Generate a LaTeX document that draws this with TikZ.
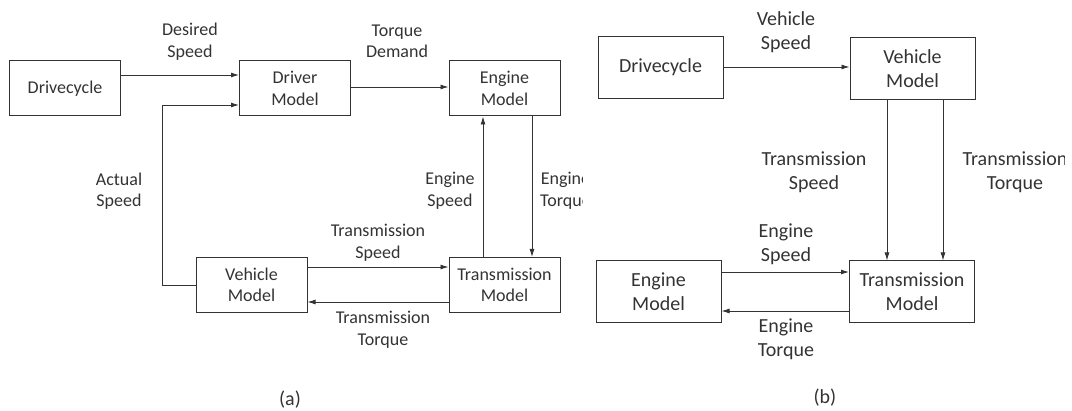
\documentclass[tikz,border=0pt]{standalone}
\usepackage{fontspec}
\setmainfont{Carlito}
\usetikzlibrary{arrows.meta}

\definecolor{ink}{HTML}{333333}

\tikzset{
  >={Latex[length=8pt,width=5pt]},
  boxA/.style={draw=ink, line width=1pt, minimum width=111pt, minimum height=55pt,
    inner sep=0pt, align=center, text=ink, font=\fontsize{18}{21.5}\selectfont},
  boxB/.style={draw=ink, line width=1pt, minimum width=125pt, minimum height=62pt,
    inner sep=0pt, align=center, text=ink, font=\fontsize{20}{24}\selectfont},
  lblA/.style={align=center, inner sep=0pt, text=ink, font=\fontsize{18}{21.5}\selectfont},
  lblB/.style={align=center, inner sep=0pt, text=ink, font=\fontsize{20}{24}\selectfont},
  wire/.style={draw=ink, line width=0.9pt, ->}
}

\begin{document}
\begin{tikzpicture}[x=1pt, y=-1pt]

\useasboundingbox (0,0) rectangle (1072,411);

% (a)
\begin{scope}
\clip (0,0) rectangle (582,411);

\node[boxA] (drvA)    at (65,88.5)    {Drivecycle};
\node[boxA] (driverA) at (295,88.5)   {Driver\\Model};
\node[boxA] (engA)    at (504.5,88.5) {Engine\\Model};
\node[boxA] (vehA)    at (251.5,285)  {Vehicle\\Model};
\node[boxA] (trnA)    at (504.5,285)  {Transmission\\Model};

\draw[wire] (drvA.east |- 0,75) -- (driverA.west |- 0,75);
\draw[wire] (vehA.west) -| (162,105) -- (driverA.west |- 0,105);
\draw[wire] (driverA.east |- 0,87) -- (engA.west |- 0,87);
\draw[wire] (trnA.north -| 483,0) -- (engA.south -| 483,0);
\draw[wire] (engA.south -| 532,0) -- (trnA.north -| 532,0);
\draw[wire] (vehA.east |- 0,267) -- (trnA.west |- 0,267);
\draw[wire] (trnA.west |- 0,302) -- (vehA.east |- 0,302);

\node[lblA] (desA) at (190,41.5) {Desired\\Speed};
\node[lblA] (tdmA) at (397,41.5) {Torque\\Demand};
\node[lblA] (actA) at (119,191)  {Actual\\Speed};
\node[lblA] (espA) at (450,191)  {Engine\\Speed};
\node[lblA, anchor=west] (etqA) at (540,191) {Engine\\Torque};
\node[lblA] (tspA) at (378,243)  {Transmission\\Speed};
\node[lblA] (ttqA) at (383,330)  {Transmission\\Torque};
\node[lblB] (capA) at (290,400)  {(a)};
\end{scope}

% (b)
\begin{scope}
\clip (582,0) rectangle (1064,411);

\node[boxB] (drvB) at (660.5,67.5) {Drivecycle};
\node[boxB] (vehB) at (912.5,69)   {Vehicle\\Model};
\node[boxB] (engB) at (658.5,292)  {Engine\\Model};
\node[boxB] (trnB) at (912,292)    {Transmission\\Model};

\draw[wire] (drvB.east |- 0,67) -- (vehB.west |- 0,67);
\draw[wire] (vehB.south -| 887,0) -- (trnB.north -| 887,0);
\draw[wire] (vehB.south -| 943,0) -- (trnB.north -| 943,0);
\draw[wire] (engB.east |- 0,272) -- (trnB.west |- 0,272);
\draw[wire] (trnB.west |- 0,311) -- (engB.east |- 0,311);

\node[lblB] (vspB) at (786,32)    {Vehicle\\Speed};
\node[lblB] (tspB) at (814,172)   {Transmission\\Speed};
\node[lblB] (ttqB) at (1015,172)  {Transmission\\Torque};
\node[lblB] (espB) at (786,244.5) {Engine\\Speed};
\node[lblB] (etqB) at (786,339)   {Engine\\Torque};
\node[lblB] (capB) at (825,398)   {(b)};
\end{scope}

\end{tikzpicture}
\end{document}
